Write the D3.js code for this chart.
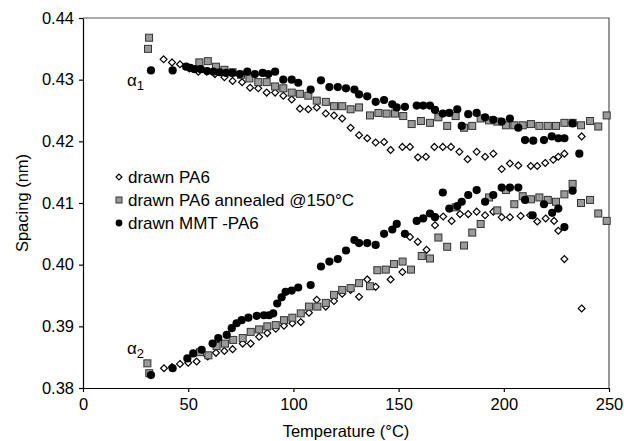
<!DOCTYPE html>
<html>
<head>
<meta charset="utf-8">
<script src="https://cdn.jsdelivr.net/npm/d3@7"></script>
<style>
  body { margin: 0; background: #fff; }
  svg { font-family: "Liberation Sans", Arial, sans-serif; }
</style>
</head>
<body>
<div id="chart"></div>
<script>
// Data: [temperature (°C), spacing (nm)]
const pa6Alpha1 = [[38.3,0.4333],[42.3,0.4328],[46.1,0.4325],[50.5,0.4318],[54.8,0.4313],[58.8,0.4313],[62.7,0.4309],[67.2,0.4304],[71.1,0.4298],[75.6,0.4296],[79.4,0.4287],[83.3,0.4286],[87.3,0.4279],[91.3,0.4279],[95.2,0.4274],[99.2,0.4268],[103.1,0.4253],[107.1,0.4252],[111.1,0.4255],[115.4,0.4245],[119.3,0.4242],[123.2,0.4237],[127.2,0.4222],[131.2,0.4210],[135.1,0.4205],[139.1,0.4198],[143.1,0.4199],[146.2,0.4186],[151.8,0.4191],[155.4,0.4191],[159.2,0.4174],[163.0,0.4175],[167.0,0.4191],[171.0,0.4191],[174.9,0.4191],[178.9,0.4183],[182.8,0.4171],[187.1,0.4183],[191.1,0.4175],[195.0,0.4180],[199.0,0.4155],[202.9,0.4164],[206.9,0.4161],[212.8,0.4160],[215.9,0.4160],[219.7,0.4165],[223.5,0.4170],[225.9,0.4175],[228.8,0.4180],[237.0,0.4208]];
const pa6Alpha2 = [[38.5,0.3832],[42.3,0.3834],[46.1,0.3839],[50.0,0.3841],[54.0,0.3843],[59.3,0.3851],[63.2,0.3857],[67.2,0.3860],[71.1,0.3863],[75.9,0.3872],[79.7,0.3872],[83.7,0.3883],[87.6,0.3889],[91.6,0.3896],[95.5,0.3901],[99.5,0.3905],[103.5,0.3907],[107.4,0.3922],[111.1,0.3943],[115.4,0.3932],[119.3,0.3941],[123.2,0.3953],[127.2,0.3959],[131.2,0.3948],[135.1,0.3976],[139.1,0.3964],[146.2,0.3976],[151.8,0.3988],[155.4,0.4045],[159.1,0.4037],[163.3,0.4024],[167.3,0.4064],[171.2,0.4078],[175.2,0.4071],[179.2,0.4082],[183.1,0.4082],[187.1,0.4086],[191.1,0.4080],[195.0,0.4086],[199.0,0.4077],[202.9,0.4077],[208.0,0.4079],[212.5,0.4080],[215.9,0.4070],[219.9,0.4075],[223.9,0.4071],[225.9,0.4055],[228.8,0.4009],[237.0,0.3929]];

const annealedAlpha1 = [[31.4,0.4368],[30.9,0.4350],[55.3,0.4328],[59.3,0.4330],[63.2,0.4321],[67.2,0.4316],[71.1,0.4312],[75.1,0.4308],[79.1,0.4302],[83.3,0.4296],[87.3,0.4296],[91.3,0.4289],[95.2,0.4286],[99.2,0.4279],[103.1,0.4277],[107.1,0.4274],[111.1,0.4266],[115.4,0.4264],[119.3,0.4257],[123.2,0.4257],[127.2,0.4252],[131.2,0.4255],[136.4,0.4242],[140.4,0.4246],[144.3,0.4245],[148.3,0.4245],[152.2,0.4241],[156.2,0.4228],[160.6,0.4233],[164.9,0.4230],[168.9,0.4239],[173.1,0.4225],[177.1,0.4241],[181.1,0.4222],[185.0,0.4225],[189.0,0.4237],[193.0,0.4234],[196.9,0.4232],[201.0,0.4226],[205.0,0.4226],[209.0,0.4226],[212.9,0.4228],[216.9,0.4225],[220.9,0.4225],[224.8,0.4225],[228.8,0.4230],[232.7,0.4230],[236.7,0.4226],[241.0,0.4233],[244.9,0.4224],[248.9,0.4242]];
const annealedAlpha2 = [[30.6,0.3840],[31.5,0.3824],[55.6,0.3858],[59.6,0.3853],[63.5,0.3868],[67.5,0.3872],[71.4,0.3878],[75.9,0.3881],[79.7,0.3891],[83.7,0.3895],[87.6,0.3900],[91.6,0.3902],[95.5,0.3910],[99.5,0.3914],[103.5,0.3921],[107.4,0.3932],[111.4,0.3932],[115.4,0.3938],[119.3,0.3951],[123.2,0.3959],[127.2,0.3962],[131.2,0.3970],[136.4,0.3965],[139.9,0.3991],[143.9,0.3992],[147.8,0.4001],[151.9,0.4005],[155.9,0.3992],[161.0,0.4014],[164.9,0.4010],[168.9,0.4044],[173.1,0.4029],[177.1,0.4093],[181.1,0.4031],[185.0,0.4052],[189.0,0.4066],[193.0,0.4109],[196.9,0.4088],[201.0,0.4121],[205.0,0.4098],[209.0,0.4111],[212.9,0.4106],[216.9,0.4109],[220.9,0.4105],[224.8,0.4102],[228.8,0.4114],[232.7,0.4131],[236.7,0.4100],[241.0,0.4105],[244.9,0.4083],[248.9,0.4071]];

const mmtAlpha1 = [[32.3,0.4315],[42.6,0.4315],[49.0,0.4321],[51.0,0.4319],[53.0,0.4317],[56.0,0.4317],[59.0,0.4314],[62.0,0.4313],[65.0,0.4312],[68.0,0.4311],[71.0,0.4311],[74.6,0.4309],[78.1,0.4313],[81.7,0.4309],[85.4,0.4311],[88.1,0.4309],[91.3,0.4313],[95.2,0.4300],[99.2,0.4300],[102.3,0.4295],[108.2,0.4284],[113.1,0.4299],[117.1,0.4288],[121.1,0.4288],[125.0,0.4286],[129.0,0.4284],[131.2,0.4276],[135.1,0.4273],[139.1,0.4264],[143.1,0.4267],[147.0,0.4260],[149.1,0.4255],[153.0,0.4256],[158.6,0.4258],[161.7,0.4258],[164.9,0.4258],[167.3,0.4251],[171.0,0.4245],[174.1,0.4246],[177.9,0.4252],[180.0,0.4225],[183.1,0.4244],[187.1,0.4246],[191.1,0.4239],[195.0,0.4235],[199.0,0.4232],[202.9,0.4237],[206.9,0.4222],[210.1,0.4202],[214.0,0.4201],[219.1,0.4202],[222.8,0.4208],[225.9,0.4205],[228.8,0.4205],[232.7,0.4229],[235.9,0.4180]];
const mmtAlpha2 = [[32.3,0.3821],[42.6,0.3832],[49.6,0.3848],[52.4,0.3856],[56.4,0.3862],[61.6,0.3872],[64.3,0.3881],[68.3,0.3886],[70.7,0.3897],[73.0,0.3905],[75.4,0.3910],[78.6,0.3914],[82.6,0.3917],[86.0,0.3918],[88.4,0.3918],[90.4,0.3921],[92.3,0.3937],[94.4,0.3947],[96.3,0.3956],[99.2,0.3958],[102.3,0.3963],[108.2,0.3967],[113.1,0.3997],[117.1,0.4005],[121.1,0.4009],[125.0,0.4023],[129.0,0.4040],[131.2,0.4035],[135.1,0.4035],[139.1,0.4032],[143.1,0.4050],[147.0,0.4057],[149.1,0.4066],[153.0,0.4050],[158.6,0.4071],[161.7,0.4075],[164.9,0.4083],[167.3,0.4077],[171.0,0.4117],[174.1,0.4091],[177.9,0.4095],[180.0,0.4102],[183.1,0.4113],[187.1,0.4121],[191.1,0.4102],[195.0,0.4113],[199.0,0.4125],[202.9,0.4125],[206.9,0.4125],[210.1,0.4105],[213.7,0.4080],[219.1,0.4098],[223.0,0.4084],[225.9,0.4091],[228.8,0.4061],[232.7,0.4120]];

const legendLabels = ["drawn PA6", "drawn PA6 annealed @150\u00B0C", "drawn MMT -PA6"];
const xTicks = [0, 50, 100, 150, 200, 250];
const yTicks = [0.38, 0.39, 0.40, 0.41, 0.42, 0.43, 0.44];

const margin = { top: 18, right: 15, bottom: 53, left: 83 };
const outerWidth = 624, outerHeight = 441;
const width = outerWidth - margin.left - margin.right;
const height = outerHeight - margin.top - margin.bottom;

const svg = d3.select("#chart")
  .append("svg")
  .attr("width", outerWidth)
  .attr("height", outerHeight);

const g = svg.append("g")
  .attr("transform", `translate(${margin.left}, ${margin.top})`);

const xScale = d3.scaleLinear().domain([0, 250]).range([0, width]);
const yScale = d3.scaleLinear().domain([0.38, 0.44]).range([height, 0]);

// frame (top + right)
g.append("path")
  .attr("d", `M0,0H${width}V${height}`)
  .attr("fill", "none")
  .attr("stroke", "#555")
  .attr("stroke-width", 1.2);

const xAxis = g.append("g")
  .attr("transform", `translate(0, ${height})`)
  .call(d3.axisBottom(xScale).tickValues(xTicks).tickSize(4).tickSizeOuter(0).tickPadding(6));

const yAxis = g.append("g")
  .call(d3.axisLeft(yScale).tickValues(yTicks).tickSize(4).tickSizeOuter(0).tickPadding(5)
    .tickFormat(d3.format(".2f")));

[xAxis, yAxis].forEach(function (ax) {
  ax.select(".domain").attr("stroke", "#000").attr("stroke-width", 1.2);
  ax.selectAll(".tick line").attr("stroke", "#000").attr("stroke-width", 1.2);
  ax.selectAll("text").style("font-size", "16.5px").attr("fill", "#000");
});

// axis titles
svg.append("text")
  .attr("x", margin.left + width / 2)
  .attr("y", 437)
  .attr("text-anchor", "middle")
  .style("font-size", "16.5px")
  .text("Temperature (\u00B0C)");

svg.append("text")
  .attr("transform", `translate(28, ${margin.top + height / 2}) rotate(-90)`)
  .attr("text-anchor", "middle")
  .style("font-size", "16.5px")
  .text("Spacing (nm)");

// marker drawing helpers
const diamond = d3.symbol().type(d3.symbolDiamond2);
function drawDiamonds(data, size) {
  g.append("g").selectAll("path")
    .data(data)
    .enter()
    .append("path")
    .attr("transform", function (d) { return `translate(${xScale(d[0])}, ${yScale(d[1])})`; })
    .attr("d", diamond.size(size)())
    .attr("fill", "#fff")
    .attr("stroke", "#000")
    .attr("stroke-width", 1.2);
}
function drawSquares(data, side) {
  g.append("g").selectAll("rect")
    .data(data)
    .enter()
    .append("rect")
    .attr("x", function (d) { return xScale(d[0]) - side / 2; })
    .attr("y", function (d) { return yScale(d[1]) - side / 2; })
    .attr("width", side)
    .attr("height", side)
    .attr("fill", "#9a9a9a")
    .attr("stroke", "#333")
    .attr("stroke-width", 1);
}
function drawCircles(data, r) {
  g.append("g").selectAll("circle")
    .data(data)
    .enter()
    .append("circle")
    .attr("cx", function (d) { return xScale(d[0]); })
    .attr("cy", function (d) { return yScale(d[1]); })
    .attr("r", r)
    .attr("fill", "#000");
}

drawDiamonds(pa6Alpha1, 30);
drawDiamonds(pa6Alpha2, 30);
drawSquares(annealedAlpha1, 7);
drawSquares(annealedAlpha2, 7);
drawCircles(mmtAlpha1, 4.1);
drawCircles(mmtAlpha2, 4.1);

// alpha labels
function alphaLabel(x, y, sub) {
  const t = svg.append("text")
    .attr("x", x)
    .attr("y", y)
    .style("font-size", "17px");
  t.append("tspan").text("\u03B1");
  t.append("tspan").attr("dy", 4).style("font-size", "13px").text(sub);
}
alphaLabel(127, 86, "1");
alphaLabel(127, 354, "2");

// legend
const legendX = 119, legendY = 177, legendStep = 23;
const legend = svg.append("g");
legend.append("path")
  .attr("transform", `translate(${legendX}, ${legendY})`)
  .attr("d", diamond.size(22)())
  .attr("fill", "#fff")
  .attr("stroke", "#000")
  .attr("stroke-width", 1.2);
legend.append("rect")
  .attr("x", legendX - 3).attr("y", legendY + legendStep - 3)
  .attr("width", 6).attr("height", 6)
  .attr("fill", "#9a9a9a").attr("stroke", "#333");
legend.append("circle")
  .attr("cx", legendX).attr("cy", legendY + 2 * legendStep)
  .attr("r", 3.4).attr("fill", "#000");

legend.selectAll("text")
  .data(legendLabels)
  .enter()
  .append("text")
  .attr("x", legendX + 9)
  .attr("y", function (d, i) { return legendY + i * legendStep; })
  .attr("dy", "0.35em")
  .style("font-size", "17px")
  .text(function (d) { return d; });
</script>
</body>
</html>
